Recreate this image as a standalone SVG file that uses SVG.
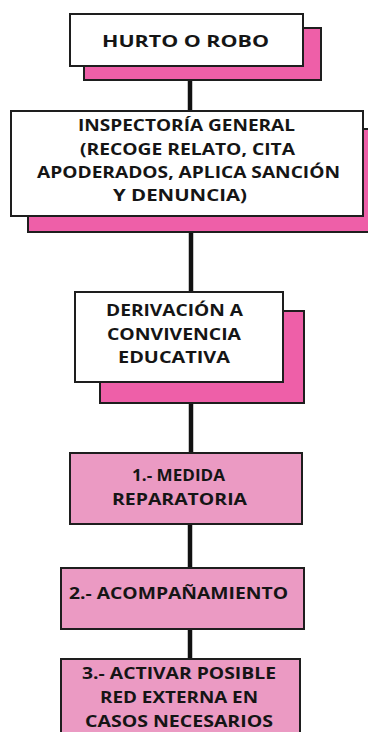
<svg xmlns="http://www.w3.org/2000/svg" width="368" height="732" viewBox="0 0 368 732">
<style>
.shadow{fill:#ee5fa8;stroke:#1e1e1e;stroke-width:2}
.white{fill:#ffffff;stroke:#1e1e1e;stroke-width:2}
.light{fill:#eb9ac3;stroke:#1e1e1e;stroke-width:2}
.conn{stroke:#111;stroke-width:4.5;fill:none}
text{font-family:"Open Sans","DejaVu Sans",sans-serif;font-weight:700;fill:#151515;text-anchor:middle;font-size:16.5px}
</style>
<rect width="368" height="732" fill="#ffffff"/>
<g id="connectors">
<line class="conn" x1="190" y1="80" x2="190" y2="111"/>
<line class="conn" x1="191" y1="232" x2="191" y2="292"/>
<line class="conn" x1="191" y1="403" x2="191" y2="453"/>
<line class="conn" x1="190" y1="524" x2="190" y2="568"/>
<line class="conn" x1="190" y1="629" x2="190" y2="659"/>
</g>
<g id="n1">
<rect class="shadow" x="84" y="28" width="237" height="52"/>
<rect class="white" x="70" y="14" width="233" height="52"/>
<text x="185.5" y="47" font-size="20.5" textLength="167" lengthAdjust="spacingAndGlyphs">HURTO O ROBO</text>
</g>
<g id="n2">
<rect class="shadow" x="28" y="129" width="346" height="103"/>
<rect class="white" x="11" y="111" width="352" height="105"/>
<text x="186.5" y="131" textLength="217" lengthAdjust="spacingAndGlyphs">INSPECTORÍA GENERAL</text>
<text x="187.5" y="154.5" textLength="215" lengthAdjust="spacingAndGlyphs">(RECOGE RELATO, CITA</text>
<text x="188.5" y="178" textLength="303" lengthAdjust="spacingAndGlyphs">APODERADOS, APLICA SANCIÓN</text>
<text x="180" y="201" textLength="134" lengthAdjust="spacingAndGlyphs">Y DENUNCIA)</text>
</g>
<g id="n3">
<rect class="shadow" x="100" y="311" width="204" height="92"/>
<rect class="white" x="75" y="292" width="208" height="90"/>
<text x="174.5" y="316" textLength="137" lengthAdjust="spacingAndGlyphs">DERIVACIÓN A</text>
<text x="174" y="340" textLength="134" lengthAdjust="spacingAndGlyphs">CONVIVENCIA</text>
<text x="174" y="363" textLength="112" lengthAdjust="spacingAndGlyphs">EDUCATIVA</text>
</g>
<g id="n4">
<rect class="light" x="70" y="453" width="232" height="71"/>
<text x="178.5" y="481" textLength="93" lengthAdjust="spacingAndGlyphs">1.- MEDIDA</text>
<text x="179.5" y="505" textLength="135" lengthAdjust="spacingAndGlyphs">REPARATORIA</text>
</g>
<g id="n5">
<rect class="light" x="61" y="568" width="243" height="61"/>
<text x="178.5" y="599" textLength="219" lengthAdjust="spacingAndGlyphs">2.- ACOMPAÑAMIENTO</text>
</g>
<g id="n6">
<rect class="light" x="61" y="659" width="239" height="82"/>
<text x="179" y="679" textLength="194" lengthAdjust="spacingAndGlyphs">3.- ACTIVAR POSIBLE</text>
<text x="179" y="703" textLength="158" lengthAdjust="spacingAndGlyphs">RED EXTERNA EN</text>
<text x="179" y="727" textLength="188" lengthAdjust="spacingAndGlyphs">CASOS NECESARIOS</text>
</g>
</svg>
